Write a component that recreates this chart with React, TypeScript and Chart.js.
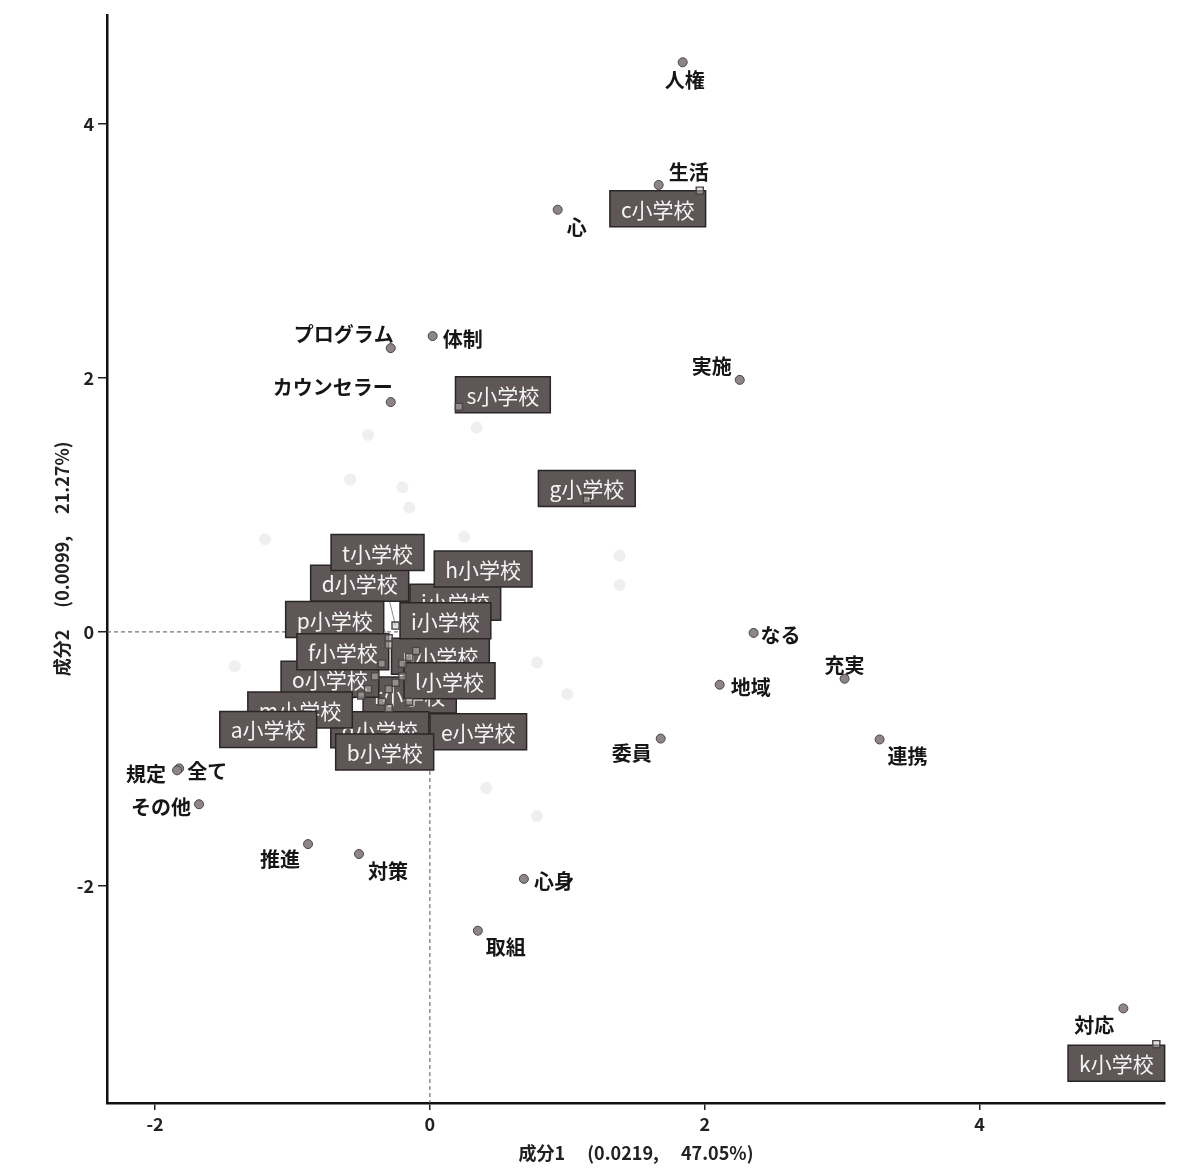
import React, { useEffect, useRef } from "react";
import { Chart, registerables } from "chart.js";

Chart.register(...registerables);

const xTicks = [-2, 0, 2, 4];
const yTicks = [-2, 0, 2, 4];
const X_MIN = -2.35;
const X_MAX = 5.35;
const Y_MIN = -3.71;
const Y_MAX = 4.86;
const xTitle = "成分1　 (0.0219,　 47.05%)";
const yTitle = "成分2　 (0.0099,　 21.27%)";

// word (column) coordinates
const wordLabels = ["人権", "生活", "心", "体制", "プログラム", "カウンセラー", "実施", "なる", "充実", "地域", "委員", "連携", "全て", "規定", "その他", "推進", "対策", "心身", "取組", "対応"];
const wordX = [1.84, 1.665, 0.93, 0.02, -0.285, -0.285, 2.255, 2.356, 3.018, 2.109, 1.68, 3.273, -1.825, -1.84, -1.68, -0.887, -0.516, 0.684, 0.349, 5.047];
const wordY = [4.486, 3.52, 3.325, 2.33, 2.235, 1.81, 1.985, -0.008, -0.369, -0.416, -0.84, -0.847, -1.075, -1.09, -1.357, -1.671, -1.749, -1.945, -2.353, -2.965];
// label placement (pixel offsets from the point)
const wordLabelOffsets = [[2, 18], [30, -13], [19, 18], [30, 3], [-47, -14], [-58, -15], [-28, -13], [27, 2], [0, -13], [31, 3], [-29, 15], [28, 17], [28, 3], [-31, 4], [-38, 3], [-28, 15], [29, 17], [30, 3], [28, 17], [-29, 17]];

// school (row) coordinates, listed in drawing order (bottom first)
const schoolLabels = ["d小学校", "j小学校", "n小学校", "r小学校", "o小学校", "q小学校", "m小学校", "t小学校", "h小学校", "p小学校", "i小学校", "f小学校", "l小学校", "a小学校", "e小学校", "b小学校", "c小学校", "s小学校", "g小学校", "k小学校"];
const schoolX = [-0.3, -0.15, -0.2, -0.3, -0.4, -0.35, -0.45, -0.25, -0.1, -0.3, -0.2, -0.35, -0.25, -0.5, -0.15, -0.3, 1.964, 0.211, 1.142, 5.287];
const schoolY = [-0.05, -0.2, -0.35, -0.45, -0.35, -0.55, -0.45, 0.05, -0.15, -0.1, -0.25, -0.25, -0.4, -0.5, -0.55, -0.6, 3.475, 1.773, 1.043, -3.247];
const schoolLabelOffsets = [[-29, -55], [46, -55], [38, -20], [21, 6], [-45, 3], [-2, 28], [-68, 21], [-18, -73], [67, -82], [-54, -25], [43, -43], [-39, -12], [54, -2], [-93, 34], [69, 30], [-4, 44], [-42, 18], [44, -12], [0, -11], [-40, 19]];

// faint background marks
const ghostX = [-0.45, -0.58, -0.2, -0.15, 0.34, 0.25, 1.38, 1.38, 0.78, 1.0, 0.41, 0.78, -1.2, -1.42];
const ghostY = [1.55, 1.2, 1.14, 0.98, 1.61, 0.75, 0.6, 0.37, -0.24, -0.49, -1.23, -1.45, 0.73, -0.27];

const FONT = '"Noto Sans CJK JP", "Noto Sans", sans-serif';

const labelPlugin = {
  id: "caLabels",
  afterDatasetDraw(chart: any, args: any) {
    if (args.index !== 1) return;
    const { ctx } = chart;
    const xs = chart.scales.x;
    const ys = chart.scales.y;
    ctx.save();
    // word labels
    ctx.font = `bold 20px ${FONT}`;
    ctx.fillStyle = "#161616";
    ctx.textAlign = "center";
    ctx.textBaseline = "middle";
    wordLabels.forEach((t, i) => {
      const px = xs.getPixelForValue(wordX[i]);
      const py = ys.getPixelForValue(wordY[i]);
      ctx.fillText(t, px + wordLabelOffsets[i][0], py + wordLabelOffsets[i][1]);
    });
    // segments
    ctx.strokeStyle = "#8a8a8a";
    ctx.lineWidth = 1;
    schoolLabels.forEach((t, i) => {
      const px = xs.getPixelForValue(schoolX[i]);
      const py = ys.getPixelForValue(schoolY[i]);
      ctx.beginPath();
      ctx.moveTo(px, py);
      ctx.lineTo(px + schoolLabelOffsets[i][0], py + schoolLabelOffsets[i][1]);
      ctx.stroke();
    });
    // boxes
    ctx.font = `21px ${FONT}`;
    schoolLabels.forEach((t, i) => {
      const px = xs.getPixelForValue(schoolX[i]);
      const py = ys.getPixelForValue(schoolY[i]);
      const cx = px + schoolLabelOffsets[i][0];
      const cy = py + schoolLabelOffsets[i][1];
      const w = ctx.measureText(t).width + 22;
      const h = 36;
      ctx.fillStyle = "#5f5757";
      ctx.strokeStyle = "#2b2626";
      ctx.lineWidth = 1.5;
      ctx.beginPath();
      ctx.rect(cx - w / 2, cy - h / 2, w, h);
      ctx.fill();
      ctx.stroke();
      ctx.fillStyle = "#f4f4f4";
      ctx.fillText(t, cx, cy + 1);
    });
    ctx.restore();
  },
};

export default function App() {
  const ref = useRef<HTMLCanvasElement | null>(null);
  useEffect(() => {
    document.body.style.margin = "0";
    const canvas = ref.current;
    if (!canvas) return;
    const chart = new Chart(canvas, {
      type: "scatter",
      data: {
        datasets: [
          {
            label: "schools",
            data: schoolX.map((x, i) => ({ x, y: schoolY[i] })),
            pointStyle: "rect",
            pointRadius: 5,
            backgroundColor: "rgba(200,195,195,0.5)",
            borderColor: "#4a4444",
            borderWidth: 1.4,
          },
          {
            label: "words",
            data: wordX.map((x, i) => ({ x, y: wordY[i] })),
            pointStyle: "circle",
            pointRadius: 4.5,
            backgroundColor: "#8e8686",
            borderColor: "#4a4444",
            borderWidth: 1,
          },
          {
            type: "line",
            label: "ref",
            data: [
              { x: X_MIN, y: 0 },
              { x: 0, y: 0 },
              { x: 0, y: Y_MIN },
            ],
            borderColor: "#555",
            borderWidth: 1,
            borderDash: [4, 3],
            pointRadius: 0,
            fill: false,
            showLine: true,
          } as any,
          {
            label: "ghost",
            data: ghostX.map((x, i) => ({ x, y: ghostY[i] })),
            pointRadius: 6,
            backgroundColor: "rgba(185,172,172,0.2)",
            borderWidth: 0,
          },
        ],
      },
      options: {
        animation: false,
        responsive: false,
        maintainAspectRatio: false,
        layout: { padding: { left: 0, right: 13, top: 10, bottom: 0 } },
        plugins: { legend: { display: false }, tooltip: { enabled: false } },
        scales: {
          x: {
            type: "linear",
            min: X_MIN,
            max: X_MAX,
            afterBuildTicks: (s: any) => {
              s.ticks = xTicks.map((v) => ({ value: v }));
            },
            afterFit: (s: any) => {
              s.height = 67;
            },
            grid: { display: true, drawOnChartArea: false, drawTicks: true, tickLength: 7, color: "#222", lineWidth: 1.5 },
            border: { display: true, color: "#111", width: 2.5 },
            ticks: { color: "#222", font: { family: FONT, size: 18, weight: "bold" }, padding: 3, maxRotation: 0 },
            title: { display: true, text: xTitle, color: "#222", font: { family: FONT, size: 18, weight: "bold" }, padding: { bottom: 6, top: 0 } },
          },
          y: {
            type: "linear",
            min: Y_MIN,
            max: Y_MAX,
            afterBuildTicks: (s: any) => {
              s.ticks = yTicks.map((v) => ({ value: v }));
            },
            afterFit: (s: any) => {
              s.width = 107;
            },
            grid: { display: true, drawOnChartArea: false, drawTicks: true, tickLength: 9, color: "#222", lineWidth: 1.5 },
            border: { display: true, color: "#111", width: 2.5 },
            ticks: { color: "#222", font: { family: FONT, size: 18, weight: "bold" }, padding: 4 },
            title: { display: true, text: yTitle, color: "#222", font: { family: FONT, size: 18, weight: "bold" }, padding: { top: 51, bottom: 0 } },
          },
        },
      } as any,
      plugins: [labelPlugin],
    });
    return () => chart.destroy();
  }, []);
  return (
    <div style={{ width: 1178, height: 1170, background: "#fff" }}>
      <canvas ref={ref} width={1178} height={1170} />
    </div>
  );
}
